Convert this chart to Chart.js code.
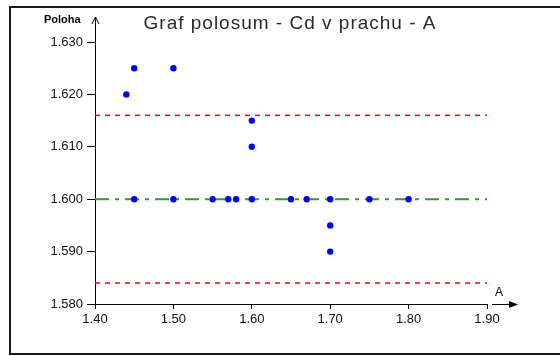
<!DOCTYPE html>
<html>
<head>
<meta charset="utf-8">
<script src="https://cdn.jsdelivr.net/npm/chart.js@4"></script>
<style>
  html, body { margin: 0; padding: 0; background: #fff; }
  #wrap { width: 560px; height: 356px; }
</style>
</head>
<body>
<div id="wrap"><canvas id="chart" width="560" height="356"></canvas></div>
<script>
// ─── Data ────────────────────────────────────────────────────────────────────
const pointX = [1.44, 1.45, 1.50, 1.60, 1.60, 1.45, 1.50, 1.55, 1.57, 1.58, 1.60, 1.65, 1.67, 1.70, 1.75, 1.80, 1.70, 1.70];
const pointY = [1.620, 1.625, 1.625, 1.615, 1.610, 1.600, 1.600, 1.600, 1.600, 1.600, 1.600, 1.600, 1.600, 1.600, 1.600, 1.600, 1.595, 1.590];

const lineX      = [1.40, 1.90];
const upperLimit = 1.616;
const centerLine = 1.600;
const lowerLimit = 1.584;

const xTicks = [1.40, 1.50, 1.60, 1.70, 1.80, 1.90];
const yTicks = [1.580, 1.590, 1.600, 1.610, 1.620, 1.630];

const titleText = 'Graf polosum - Cd v prachu - A';
const yLabel = 'Poloha';
const xLabel = 'A';

const FONT = "'Liberation Sans', Arial, sans-serif";

// ─── Decorations (frame, title, axis arrows) ────────────────────────────────
const decor = {
  id: 'decor',
  afterDraw(chart) {
    const { ctx, chartArea: a } = chart;
    ctx.save();

    // outer frame
    ctx.strokeStyle = '#1a1a1a';
    ctx.lineWidth = 2;
    ctx.strokeRect(10, 7, 560, 347);

    // title (wide spacing like the original bitmap font)
    ctx.fillStyle = '#2a2a2a';
    ctx.font = '19px ' + FONT;
    ctx.letterSpacing = '1px';
    ctx.textAlign = 'center';
    ctx.textBaseline = 'alphabetic';
    ctx.fillText(titleText, 290, 29);
    ctx.letterSpacing = '0px';

    // y axis arrow
    ctx.strokeStyle = '#000';
    ctx.lineWidth = 1;
    ctx.beginPath();
    ctx.moveTo(a.left + 0.5, a.top);
    ctx.lineTo(a.left + 0.5, 17);
    ctx.moveTo(a.left - 3, 24);
    ctx.lineTo(a.left + 0.5, 17);
    ctx.lineTo(a.left + 4, 24);
    ctx.stroke();

    // x axis arrow
    const y0 = Math.round(a.bottom) + 0.5;
    ctx.beginPath();
    ctx.moveTo(a.right + 5, y0);
    ctx.lineTo(511, y0);
    ctx.stroke();
    ctx.fillStyle = '#000';
    ctx.beginPath();
    ctx.moveTo(518, y0);
    ctx.lineTo(509, y0 - 3.5);
    ctx.lineTo(509, y0 + 3.5);
    ctx.closePath();
    ctx.fill();

    // axis names
    ctx.font = 'bold 11px ' + FONT;
    ctx.textAlign = 'left';
    ctx.fillText(yLabel, 44, 23);
    ctx.font = '12px ' + FONT;
    ctx.textAlign = 'center';
    ctx.fillText(xLabel, 499, 296);

    ctx.restore();
  }
};

// ─── Chart ───────────────────────────────────────────────────────────────────
const points = pointX.map((x, i) => ({ x, y: pointY[i] }));
const hLine = v => lineX.map(x => ({ x, y: v }));

// first dataset is painted last, so the dots sit on top of the lines
new Chart(document.getElementById('chart'), {
  type: 'scatter',
  data: {
    datasets: [
      {
        label: 'values', data: points,
        backgroundColor: '#0000ff', borderColor: '#0000ff', borderWidth: 0, pointRadius: 3.2,
      },
      {
        label: 'upper', data: hLine(upperLimit), showLine: true,
        borderColor: '#ff0000', borderWidth: 1.5, borderDash: [5, 5], pointRadius: 0,
      },
      {
        label: 'lower', data: hLine(lowerLimit), showLine: true,
        borderColor: '#ff0000', borderWidth: 1.5, borderDash: [5, 5], pointRadius: 0,
      },
      {
        label: 'center', data: hLine(centerLine), showLine: true,
        borderColor: '#339933', borderWidth: 2, borderDash: [14, 6, 4, 6], pointRadius: 0,
      },
    ],
  },
  options: {
    responsive: false,
    animation: false,
    layout: { padding: { left: 0, right: 73, top: 42, bottom: 0 } },
    plugins: {
      legend:  { display: false },
      tooltip: { enabled: false },
      title:   { display: false },
    },
    scales: {
      x: {
        type: 'linear', min: 1.40, max: 1.90,
        afterBuildTicks: s => { s.ticks = xTicks.map(v => ({ value: v })); },
        afterFit: s => { s.height = 52; },
        grid:   { drawOnChartArea: false, drawTicks: true, tickLength: 5, color: '#000' },
        border: { display: true, color: '#000', width: 1 },
        ticks:  { color: '#111', padding: 3, font: { family: FONT, size: 13 }, callback: v => v.toFixed(2) },
      },
      y: {
        type: 'linear', min: 1.58, max: 1.63,
        afterBuildTicks: s => { s.ticks = yTicks.map(v => ({ value: v })); },
        afterFit: s => { s.width = 95; },
        grid:   { drawOnChartArea: false, drawTicks: true, tickLength: 8, color: '#000' },
        border: { display: true, color: '#000', width: 1 },
        ticks:  { color: '#111', padding: 4, font: { family: FONT, size: 13 }, callback: v => v.toFixed(3) },
      },
    },
  },
  plugins: [decor],
});
</script>
</body>
</html>
